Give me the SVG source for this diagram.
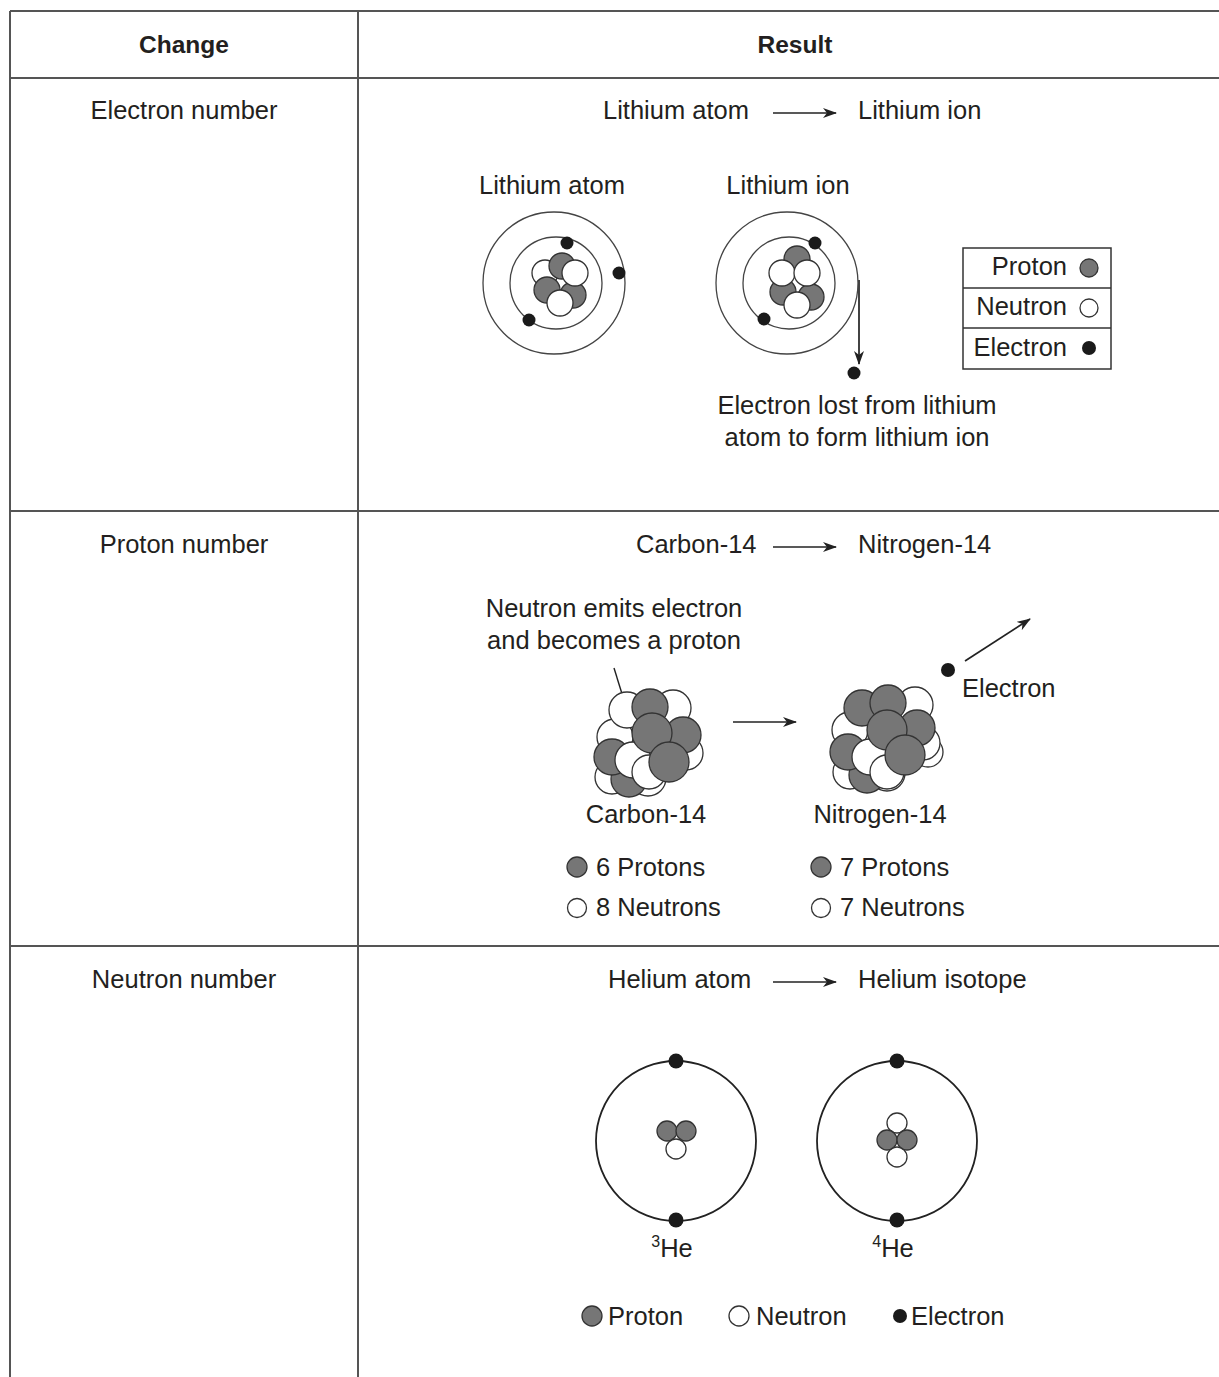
<svg xmlns="http://www.w3.org/2000/svg" width="1219" height="1377" viewBox="0 0 1219 1377">
  <defs>
    <style>
      text { font-family: "Liberation Sans", Arial, sans-serif; fill: #231f20; font-size: 25.5px; }
      .hdr { font-weight: bold; font-size: 24.5px; }
      .mid { text-anchor: middle; }
      .grid { stroke: #555; stroke-width: 2; fill: none; }
      .orbit { stroke: #444; stroke-width: 1.3; fill: none; }
      .orbit2 { stroke: #222; stroke-width: 1.8; fill: none; }
      .p { fill: #767676; stroke: #333; stroke-width: 1.3; }
      .n { fill: #fff; stroke: #333; stroke-width: 1.3; }
      .e { fill: #1a1a1a; }
      .arr { stroke: #222; stroke-width: 1.7; fill: none; marker-end: url(#head); }
      .box { fill: #fff; stroke: #333; stroke-width: 1.5; }
    </style>
    <marker id="head" viewBox="0 0 14 10" refX="13" refY="5" markerWidth="14" markerHeight="10" markerUnits="userSpaceOnUse" orient="auto">
      <path d="M0,0 L14,5 L0,10 L4,5 Z" fill="#222"/>
    </marker>
  </defs>

  <!-- table grid -->
  <g id="table">
    <line class="grid" x1="10" y1="11" x2="1219" y2="11"/>
    <line class="grid" x1="10" y1="78" x2="1219" y2="78"/>
    <line class="grid" x1="10" y1="511" x2="1219" y2="511"/>
    <line class="grid" x1="10" y1="946" x2="1219" y2="946"/>
    <line class="grid" x1="10" y1="11" x2="10" y2="1377"/>
    <line class="grid" x1="358" y1="11" x2="358" y2="1377"/>
    <text class="hdr mid" x="184" y="53">Change</text>
    <text class="hdr mid" x="795" y="53">Result</text>
    <text class="mid" x="184" y="119">Electron number</text>
    <text class="mid" x="184" y="553">Proton number</text>
    <text class="mid" x="184" y="988">Neutron number</text>
  </g>

  <!-- connectors -->
  <g id="connectors">
    <line class="arr" x1="773" y1="113" x2="836" y2="113"/>
    <line class="arr" x1="773" y1="547" x2="836" y2="547"/>
    <line class="arr" x1="773" y1="982" x2="836" y2="982"/>
    <line class="arr" x1="859" y1="280" x2="859" y2="364"/>
    <line class="arr" x1="733" y1="722" x2="796" y2="722"/>
    <line class="arr" x1="965" y1="661" x2="1030" y2="619"/>
    <line stroke="#222" stroke-width="1.4" x1="614" y1="668" x2="627" y2="710"/>
  </g>

  <!-- row 1: lithium -->
  <g id="lithium-titles">
    <text x="603" y="119">Lithium atom</text>
    <text x="858" y="119">Lithium ion</text>
    <text class="mid" x="552" y="194">Lithium atom</text>
    <text class="mid" x="788" y="194">Lithium ion</text>
  </g>

  <g id="lithium-atom">
    <circle class="orbit" cx="554" cy="283" r="71"/>
    <circle class="orbit" cx="556" cy="283" r="46"/>
    <circle class="n" cx="545" cy="273" r="13"/>
    <circle class="p" cx="562" cy="266" r="13"/>
    <circle class="p" cx="547" cy="290" r="13"/>
    <circle class="p" cx="573" cy="295" r="13"/>
    <circle class="n" cx="575" cy="273" r="13"/>
    <circle class="n" cx="560" cy="303" r="13"/>
    <circle class="e" cx="567" cy="243" r="6.5"/>
    <circle class="e" cx="619" cy="273" r="6.5"/>
    <circle class="e" cx="529" cy="320" r="6.5"/>
  </g>

  <g id="lithium-ion">
    <circle class="orbit" cx="787" cy="283" r="71"/>
    <circle class="orbit" cx="789" cy="283" r="46"/>
    <circle class="p" cx="797" cy="259" r="13"/>
    <circle class="p" cx="783" cy="292" r="13"/>
    <circle class="p" cx="811" cy="297" r="13"/>
    <circle class="n" cx="782" cy="273" r="13"/>
    <circle class="n" cx="807" cy="273" r="13"/>
    <circle class="n" cx="797" cy="305" r="13"/>
    <circle class="e" cx="815" cy="243" r="6.5"/>
    <circle class="e" cx="764" cy="319" r="6.5"/>
    <circle class="e" cx="854" cy="373" r="6.5"/>
    <text class="mid" x="857" y="414">Electron lost from lithium</text>
    <text class="mid" x="857" y="446">atom to form lithium ion</text>
  </g>

  <g id="legend-lithium">
    <rect class="box" x="963" y="248" width="148" height="121"/>
    <line stroke="#333" stroke-width="1.5" x1="963" y1="288" x2="1111" y2="288"/>
    <line stroke="#333" stroke-width="1.5" x1="963" y1="328" x2="1111" y2="328"/>
    <text x="1067" y="275" text-anchor="end">Proton</text>
    <text x="1067" y="315" text-anchor="end">Neutron</text>
    <text x="1067" y="356" text-anchor="end">Electron</text>
    <circle class="p" cx="1089" cy="268" r="9"/>
    <circle class="n" cx="1089" cy="308" r="9"/>
    <circle class="e" cx="1089" cy="348" r="7"/>
  </g>

  <!-- row 2: carbon to nitrogen -->
  <g id="carbon-titles">
    <text x="636" y="553">Carbon-14</text>
    <text x="858" y="553">Nitrogen-14</text>
    <text class="mid" x="614" y="617">Neutron emits electron</text>
    <text class="mid" x="614" y="649">and becomes a proton</text>
  </g>

  <g id="carbon-14">
    <circle class="n" cx="612" cy="777" r="17"/>
    <circle class="n" cx="686" cy="753" r="17"/>
    <circle class="n" cx="648" cy="778" r="18"/>
    <circle class="p" cx="629" cy="779" r="18"/>
    <circle class="n" cx="673" cy="708" r="18"/>
    <circle class="p" cx="683" cy="735" r="18"/>
    <circle class="n" cx="615" cy="737" r="18"/>
    <circle class="p" cx="612" cy="757" r="18"/>
    <circle class="n" cx="633" cy="760" r="18"/>
    <circle class="n" cx="627" cy="710" r="18"/>
    <circle class="p" cx="650" cy="707" r="18"/>
    <circle class="p" cx="652" cy="733" r="20"/>
    <circle class="n" cx="649" cy="772" r="17"/>
    <circle class="p" cx="669" cy="762" r="20"/>
    <text class="mid" x="646" y="823">Carbon-14</text>
  </g>

  <g id="nitrogen-14">
    <circle class="n" cx="850" cy="772" r="17"/>
    <circle class="n" cx="928" cy="752" r="15"/>
    <circle class="n" cx="887" cy="773" r="18"/>
    <circle class="p" cx="867" cy="775" r="18"/>
    <circle class="n" cx="915" cy="705" r="18"/>
    <circle class="n" cx="923" cy="743" r="17"/>
    <circle class="p" cx="917" cy="728" r="18"/>
    <circle class="n" cx="850" cy="730" r="18"/>
    <circle class="p" cx="848" cy="752" r="18"/>
    <circle class="n" cx="870" cy="757" r="18"/>
    <circle class="p" cx="862" cy="708" r="18"/>
    <circle class="p" cx="888" cy="703" r="18"/>
    <circle class="p" cx="887" cy="730" r="20"/>
    <circle class="n" cx="887" cy="772" r="17"/>
    <circle class="p" cx="905" cy="755" r="20"/>
    <text class="mid" x="880" y="823">Nitrogen-14</text>
  </g>

  <g id="emitted-electron">
    <circle class="e" cx="948" cy="670" r="7"/>
    <text x="962" y="697">Electron</text>
  </g>

  <g id="carbon-counts">
    <circle class="p" cx="577" cy="867" r="10"/>
    <text x="596" y="876">6 Protons</text>
    <circle class="n" cx="577" cy="908" r="9.5"/>
    <text x="596" y="916">8 Neutrons</text>
  </g>

  <g id="nitrogen-counts">
    <circle class="p" cx="821" cy="867" r="10"/>
    <text x="840" y="876">7 Protons</text>
    <circle class="n" cx="821" cy="908" r="9.5"/>
    <text x="840" y="916">7 Neutrons</text>
  </g>

  <!-- row 3: helium -->
  <g id="helium-titles">
    <text x="608" y="988">Helium atom</text>
    <text x="858" y="988">Helium isotope</text>
  </g>

  <g id="helium-3">
    <circle class="orbit2" cx="676" cy="1141" r="80"/>
    <circle class="n" cx="676" cy="1149" r="10"/>
    <circle class="p" cx="667" cy="1131" r="10"/>
    <circle class="p" cx="686" cy="1131" r="10"/>
    <circle class="e" cx="676" cy="1061" r="7.5"/>
    <circle class="e" cx="676" cy="1220" r="7.5"/>
    <text class="mid" x="672" y="1257"><tspan font-size="16" dy="-10">3</tspan><tspan dy="10">He</tspan></text>
  </g>

  <g id="helium-4">
    <circle class="orbit2" cx="897" cy="1141" r="80"/>
    <circle class="n" cx="897" cy="1123" r="10"/>
    <circle class="n" cx="897" cy="1157" r="10"/>
    <circle class="p" cx="887" cy="1140" r="10"/>
    <circle class="p" cx="907" cy="1140" r="10"/>
    <circle class="e" cx="897" cy="1061" r="7.5"/>
    <circle class="e" cx="897" cy="1220" r="7.5"/>
    <text class="mid" x="893" y="1257"><tspan font-size="16" dy="-10">4</tspan><tspan dy="10">He</tspan></text>
  </g>

  <g id="legend-helium">
    <circle class="p" cx="592" cy="1316" r="10"/>
    <text x="608" y="1325">Proton</text>
    <circle class="n" cx="739" cy="1316" r="10"/>
    <text x="756" y="1325">Neutron</text>
    <circle class="e" cx="900" cy="1316" r="7"/>
    <text x="911" y="1325">Electron</text>
  </g>
</svg>
